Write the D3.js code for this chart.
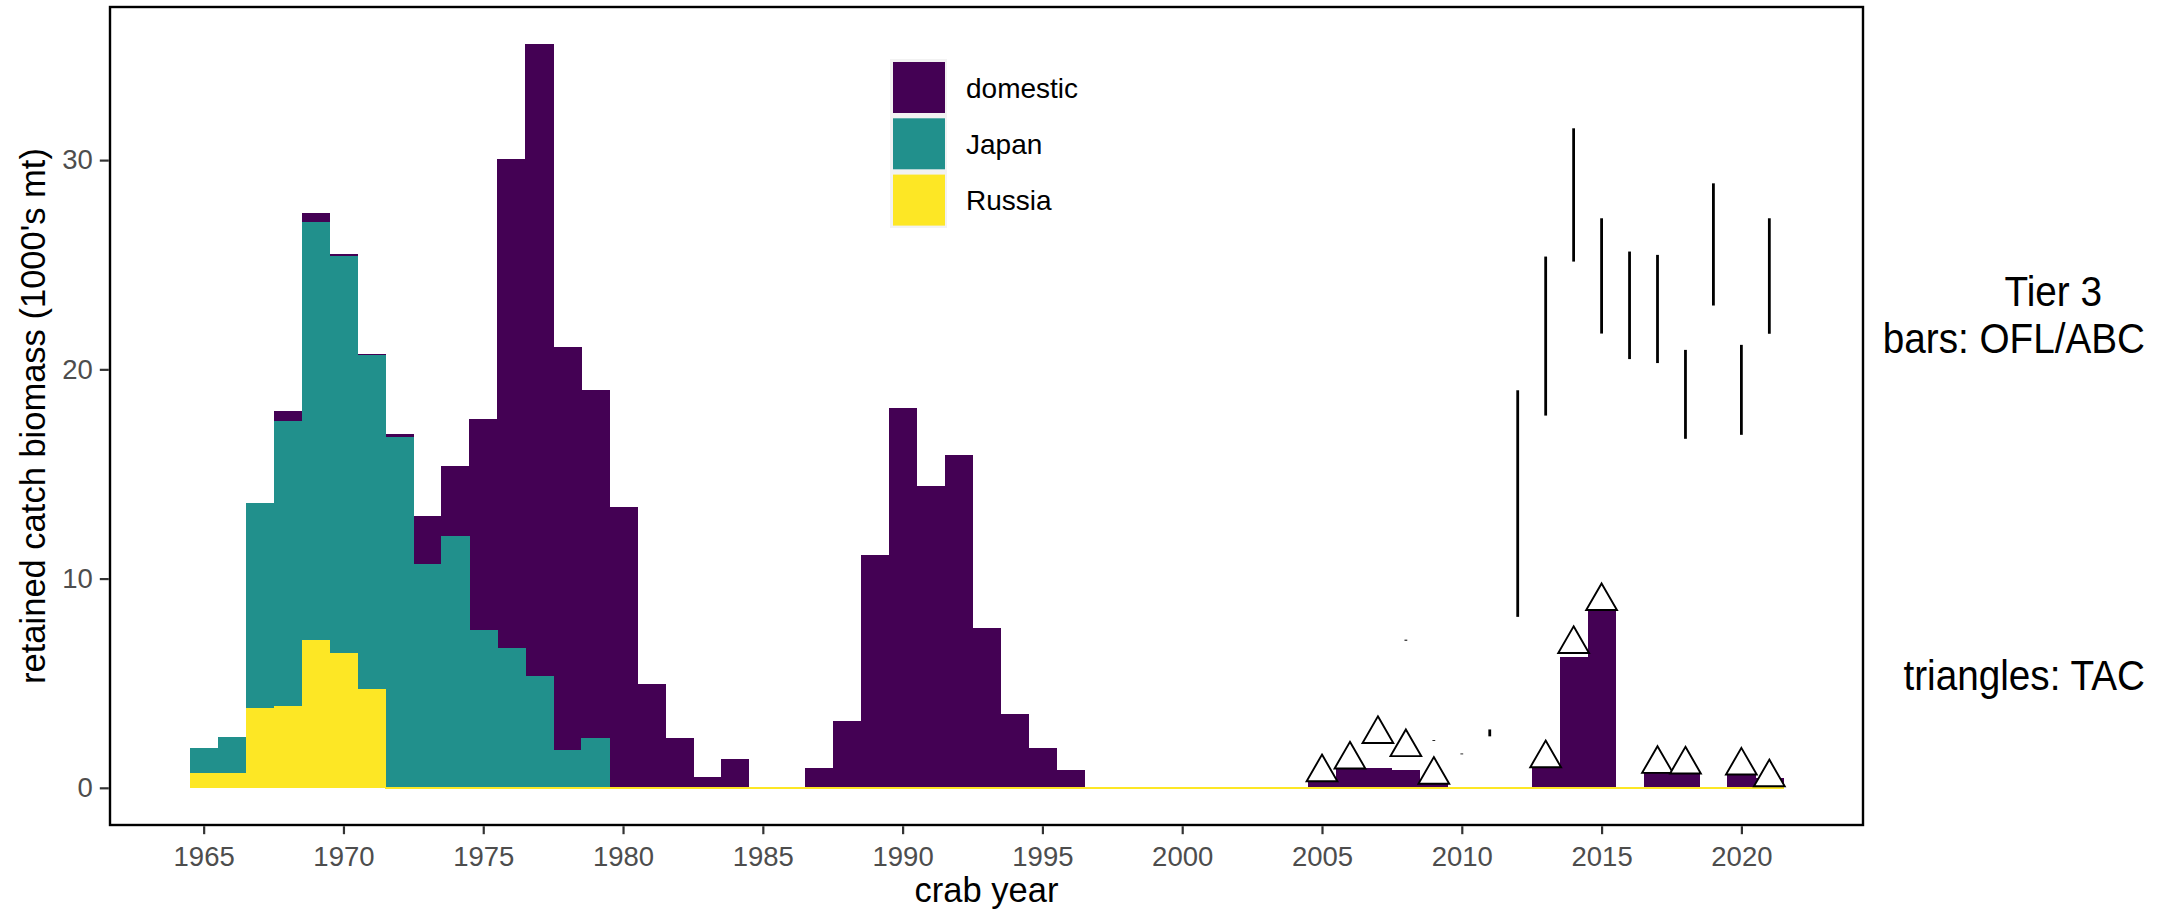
<!DOCTYPE html>
<html>
<head>
<meta charset="utf-8">
<script src="https://cdn.jsdelivr.net/npm/d3@7"></script>
<style>
  body { margin: 0; background: #fff; }
  text { font-family: "Liberation Sans", Arial, Helvetica, sans-serif; }
</style>
</head>
<body>
<svg id="chart"></svg>
<script>
// Retained catch by crab year (1000's mt)
const years = d3.range(1965, 2022);
const domestic = [0, 0, 0, 0.48, 0.43, 0.10, 0.05, 0.14, 2.29, 3.34,
  10.11, 23.38, 30.21, 19.27, 16.62, 13.43, 4.98, 2.40, 0.54, 1.40,
  0, 0, 0.97, 3.17, 11.11, 18.16, 14.44, 15.92, 7.66, 3.55,
  1.92, 0.83, 0, 0, 0, 0, 0, 0, 0, 0,
  0.30, 0.95, 0.95, 0.87, 0.30, 0, 0, 0, 0.95, 6.24,
  8.47, 0, 0.72, 0.72, 0, 0.64, 0.48];
const japan = [1.19, 1.72, 9.79, 13.62, 19.96, 18.96, 15.95, 16.78, 10.71, 12.05,
  7.53, 6.67, 5.33, 1.80, 2.40, 0, 0, 0, 0, 0,
  0, 0, 0, 0, 0, 0, 0, 0, 0, 0,
  0, 0, 0, 0, 0, 0, 0, 0, 0, 0,
  0, 0, 0, 0, 0, 0, 0, 0, 0, 0,
  0, 0, 0, 0, 0, 0, 0];
const russia = [0.73, 0.73, 3.83, 3.92, 7.08, 6.46, 4.74, 0, 0, 0,
  0, 0, 0, 0, 0, 0, 0, 0, 0, 0,
  0, 0, 0, 0, 0, 0, 0, 0, 0, 0,
  0, 0, 0, 0, 0, 0, 0, 0, 0, 0,
  0, 0, 0, 0, 0, 0, 0, 0, 0, 0,
  0, 0, 0, 0, 0, 0, 0];

// TAC (triangles)
const tacYears = [2005, 2006, 2007, 2008, 2009, 2013, 2014, 2015, 2017, 2018, 2020, 2021];
const tac = [0.74, 1.35, 2.57, 1.94, 0.62, 1.41, 6.87, 8.92, 1.14, 1.11, 1.06, 0.50];

// Tier 3 OFL / ABC (vertical bars)
const limitYears = [2008, 2009, 2010, 2011, 2012, 2013, 2014, 2015, 2016, 2017, 2018, 2019, 2020, 2021];
const abc = [7.03, 2.24, 1.60, 2.46, 8.17, 17.79, 25.15, 21.71, 20.49, 20.30, 16.68, 23.05, 16.87, 21.70];
const ofl = [7.08, 2.28, 1.64, 2.79, 19.00, 25.39, 31.52, 27.22, 25.63, 25.47, 20.93, 28.89, 21.17, 27.22];

const xTicks = d3.range(1965, 2021, 5);
const yTicks = [0, 10, 20, 30];
const seriesNames = ["domestic", "Japan", "Russia"];
const seriesColors = ["#440154", "#21908C", "#FDE725"];

const W = 2172, H = 913;
const panel = { left: 110, right: 1863, top: 7, bottom: 825 };

const svg = d3.select("#chart")
    .attr("width", W)
    .attr("height", H);

svg.append("rect").attr("width", W).attr("height", H).attr("fill", "#fff");

// scales with ggplot-like 5% expansion
const xLo = d3.min(years) - 0.5, xHi = d3.max(years) + 0.5;
const xPad = (xHi - xLo) * 0.05;
const x = d3.scaleLinear()
    .domain([xLo - xPad, xHi + xPad])
    .range([panel.left, panel.right]);

const rows = years.map((yr, i) => ({
    year: yr,
    russia: russia[i],
    japan: japan[i],
    domestic: domestic[i]
}));
const yMax = d3.max(rows, d => d.russia + d.japan + d.domestic);
const y = d3.scaleLinear()
    .domain([-yMax * 0.05, yMax * 1.05])
    .range([panel.bottom, panel.top]);

// stacked bars: Russia at bottom, Japan, domestic on top
const stack = d3.stack().keys(["russia", "japan", "domestic"]);
const layers = stack(rows);
const layerColor = { russia: "#FDE725", japan: "#21908C", domestic: "#440154" };

const bars = svg.append("g").attr("class", "bars").attr("shape-rendering", "crispEdges");
// draw domestic and Japan first, Russia last so its zero rows show as a hairline
[layers[2], layers[1], layers[0]].forEach(layer => {
    bars.selectAll(null)
        .data(layer)
        .enter()
        .append("rect")
        .attr("x", d => x(d.data.year - 0.5))
        .attr("width", d => x(d.data.year + 0.5) - x(d.data.year - 0.5) + 0.6)
        .attr("y", d => layer.key === "russia" && d[1] === d[0] ? y(0) - 0.7 : y(d[1]))
        .attr("height", d => layer.key === "russia" && d[1] === d[0] ? 1.4 : Math.max(0, y(d[0]) - y(d[1])))
        .attr("fill", layerColor[layer.key]);
});

// OFL/ABC segments
svg.append("g").selectAll("line")
    .data(limitYears.map((yr, i) => ({ year: yr, lo: abc[i], hi: ofl[i] })))
    .enter()
    .append("line")
    .attr("x1", d => x(d.year))
    .attr("x2", d => x(d.year))
    .attr("y1", d => y(d.lo))
    .attr("y2", d => y(d.hi))
    .attr("stroke", "#000")
    .attr("stroke-width", 2.8);

// TAC triangles
const tri = d3.symbol().type(d3.symbolTriangle).size(410);
svg.append("g").selectAll("path")
    .data(tacYears.map((yr, i) => ({ year: yr, v: tac[i] })))
    .enter()
    .append("path")
    .attr("d", tri)
    .attr("transform", d => `translate(${x(d.year)},${y(d.v)})`)
    .attr("fill", "#fff")
    .attr("stroke", "#000")
    .attr("stroke-width", 1.9)
    .attr("stroke-linejoin", "miter");

// panel border
svg.append("rect")
    .attr("x", panel.left)
    .attr("y", panel.top)
    .attr("width", panel.right - panel.left)
    .attr("height", panel.bottom - panel.top)
    .attr("fill", "none")
    .attr("stroke", "#000")
    .attr("stroke-width", 2.4);

// axes
const xAxis = svg.append("g")
    .attr("transform", `translate(0,${panel.bottom + 1.2})`)
    .call(d3.axisBottom(x).tickValues(xTicks).tickFormat(d3.format("d")).tickSize(8).tickPadding(6));
const yAxis = svg.append("g")
    .attr("transform", `translate(${panel.left - 1.2},0)`)
    .call(d3.axisLeft(y).tickValues(yTicks).tickSize(9).tickPadding(7));

[xAxis, yAxis].forEach(g => {
    g.select(".domain").remove();
    g.selectAll(".tick line").attr("stroke", "#333333").attr("stroke-width", 2.2);
    g.selectAll(".tick text")
        .attr("fill", "#4D4D4D")
        .style("font-size", "27.5px")
        .style("font-family", "'Liberation Sans', Arial, sans-serif");
});
xAxis.selectAll(".tick text").attr("dy", "0.95em");

// axis titles
svg.append("text")
    .attr("x", (panel.left + panel.right) / 2)
    .attr("y", 902)
    .attr("text-anchor", "middle")
    .style("font-size", "34.5px")
    .text("crab year");

svg.append("text")
    .attr("transform", `translate(45,${(panel.top + panel.bottom) / 2}) rotate(-90)`)
    .attr("text-anchor", "middle")
    .style("font-size", "34.5px")
    .text("retained catch biomass (1000's mt)");

// legend
const legend = svg.append("g").attr("transform", "translate(890,59)");
legend.append("rect")
    .attr("width", 57)
    .attr("height", 169)
    .attr("fill", "#F2F2F2");
const keys = legend.selectAll(".key")
    .data(seriesNames)
    .enter()
    .append("g")
    .attr("class", "key")
    .attr("transform", (d, i) => `translate(0,${i * 56.3})`);
keys.append("rect")
    .attr("x", 3)
    .attr("y", 3)
    .attr("width", 52)
    .attr("height", 51)
    .attr("fill", (d, i) => seriesColors[i]);
keys.append("text")
    .attr("x", 76)
    .attr("y", 38.5)
    .style("font-size", "28px")
    .attr("fill", "#000")
    .text(d => d);

// right-side annotations
const notes = [
    { text: "Tier 3", x: 2102, y: 306 },
    { text: "bars: OFL/ABC", x: 2145, y: 353 },
    { text: "triangles: TAC", x: 2145, y: 690 }
];
svg.append("g").selectAll("text")
    .data(notes)
    .enter()
    .append("text")
    .attr("transform", d => `translate(${d.x},${d.y}) scale(0.9,1)`)
    .attr("text-anchor", "end")
    .style("font-size", "43px")
    .attr("fill", "#000")
    .text(d => d.text);
</script>
</body>
</html>
